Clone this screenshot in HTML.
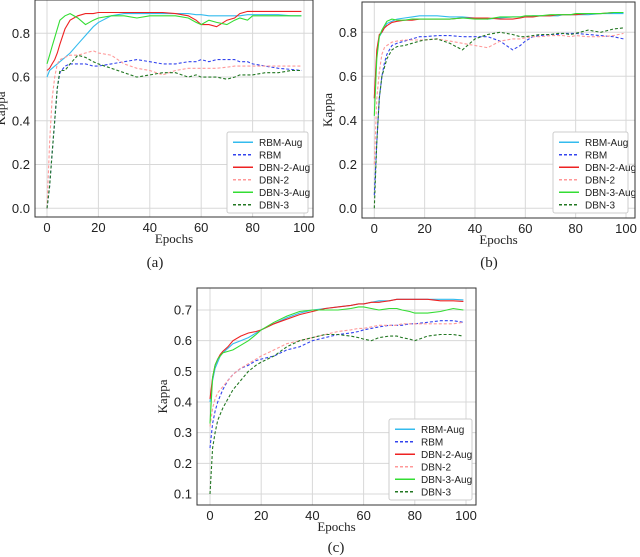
<!DOCTYPE html>
<html><head><meta charset="utf-8"><style>
html,body{margin:0;padding:0;background:#fff;width:640px;height:557px;overflow:hidden}
svg{display:block}
.tick{font-family:"Liberation Sans",sans-serif;font-size:13px;fill:#222}
.lab{font-family:"Liberation Serif",serif;font-size:13px;fill:#222}
.leg{font-family:"Liberation Sans",sans-serif;font-size:10px;fill:#222}
.cap{font-family:"Liberation Serif",serif;font-size:15px;fill:#222}
</style></head><body>
<svg id="fig" width="640" height="557" viewBox="0 0 640 557"></svg>
<script>
const epochs=[0,1,2,3,4,5,7,9,12,15,18,20,25,30,35,40,45,50,55,58,60,63,66,70,73,75,78,80,85,90,95,99];
const seriesNames=["RBM-Aug","RBM","DBN-2-Aug","DBN-2","DBN-3-Aug","DBN-3"];
const xTicks=[0,20,40,60,80,100];
const yTicksAB=[0,0.2,0.4,0.6,0.8];
const yTicksC=[0.1,0.2,0.3,0.4,0.5,0.6,0.7];
const aRbmAug=[0.6,0.63,0.64,0.65,0.66,0.67,0.69,0.71,0.75,0.79,0.83,0.85,0.88,0.89,0.89,0.89,0.89,0.89,0.89,0.885,0.885,0.88,0.88,0.88,0.88,0.88,0.885,0.885,0.885,0.885,0.88,0.88];
const aRbm=[0,0.1,0.25,0.4,0.55,0.62,0.65,0.66,0.66,0.66,0.65,0.65,0.66,0.67,0.68,0.67,0.66,0.66,0.67,0.67,0.68,0.67,0.68,0.68,0.68,0.67,0.67,0.66,0.65,0.64,0.635,0.63];
const aDbn2Aug=[0.63,0.64,0.66,0.68,0.71,0.75,0.82,0.86,0.88,0.89,0.89,0.895,0.895,0.895,0.895,0.895,0.895,0.89,0.88,0.86,0.84,0.84,0.83,0.86,0.87,0.89,0.9,0.9,0.9,0.9,0.9,0.9];
const aDbn2=[0,0.3,0.5,0.6,0.66,0.68,0.69,0.7,0.7,0.71,0.72,0.71,0.7,0.66,0.64,0.63,0.61,0.63,0.64,0.64,0.64,0.64,0.64,0.645,0.65,0.65,0.65,0.65,0.65,0.65,0.65,0.65];
const aDbn3Aug=[0.66,0.7,0.74,0.78,0.82,0.86,0.88,0.89,0.87,0.84,0.86,0.87,0.88,0.88,0.87,0.88,0.88,0.88,0.87,0.85,0.84,0.86,0.85,0.84,0.86,0.87,0.86,0.88,0.88,0.88,0.88,0.88];
const aDbn3=[0,0.1,0.25,0.4,0.55,0.63,0.63,0.66,0.7,0.69,0.67,0.66,0.64,0.62,0.6,0.61,0.62,0.62,0.6,0.61,0.6,0.6,0.6,0.59,0.6,0.61,0.61,0.61,0.62,0.62,0.63,0.63];
const bRbmAug=[0.5,0.7,0.78,0.8,0.82,0.84,0.85,0.86,0.865,0.87,0.875,0.875,0.875,0.87,0.87,0.865,0.86,0.865,0.87,0.87,0.87,0.875,0.875,0.875,0.875,0.88,0.88,0.88,0.88,0.885,0.885,0.885];
const bRbm=[0.06,0.3,0.5,0.6,0.66,0.7,0.74,0.75,0.76,0.77,0.78,0.78,0.785,0.785,0.78,0.78,0.78,0.76,0.72,0.74,0.76,0.78,0.785,0.79,0.79,0.795,0.795,0.795,0.79,0.785,0.78,0.77];
const bDbn2Aug=[0.5,0.72,0.79,0.8,0.82,0.83,0.845,0.85,0.855,0.855,0.86,0.86,0.86,0.86,0.865,0.865,0.865,0.86,0.86,0.865,0.87,0.87,0.875,0.875,0.88,0.88,0.88,0.88,0.885,0.885,0.89,0.89];
const bDbn2=[0.2,0.5,0.62,0.7,0.73,0.74,0.755,0.76,0.765,0.765,0.765,0.765,0.77,0.76,0.75,0.74,0.73,0.76,0.77,0.77,0.775,0.78,0.78,0.785,0.785,0.785,0.78,0.785,0.78,0.78,0.785,0.795];
const bDbn3Aug=[0.42,0.68,0.78,0.81,0.83,0.85,0.86,0.855,0.855,0.86,0.86,0.86,0.86,0.86,0.865,0.86,0.86,0.87,0.87,0.87,0.875,0.875,0.875,0.88,0.88,0.88,0.88,0.885,0.885,0.885,0.89,0.89];
const bDbn3=[0,0.3,0.5,0.6,0.64,0.68,0.72,0.735,0.74,0.75,0.76,0.765,0.77,0.75,0.72,0.77,0.79,0.8,0.79,0.78,0.78,0.785,0.79,0.79,0.795,0.795,0.79,0.795,0.81,0.8,0.815,0.82];
const cRbmAug=[0.4,0.47,0.51,0.53,0.55,0.56,0.575,0.59,0.6,0.61,0.625,0.635,0.655,0.675,0.69,0.7,0.705,0.71,0.715,0.72,0.72,0.725,0.73,0.73,0.735,0.735,0.735,0.735,0.735,0.735,0.735,0.733];
const cRbm=[0.25,0.33,0.37,0.4,0.42,0.44,0.47,0.49,0.51,0.52,0.535,0.54,0.55,0.57,0.58,0.6,0.61,0.62,0.625,0.63,0.635,0.64,0.645,0.65,0.65,0.65,0.655,0.655,0.66,0.665,0.665,0.66];
const cDbn2Aug=[0.41,0.48,0.52,0.54,0.555,0.565,0.58,0.6,0.615,0.625,0.63,0.635,0.655,0.67,0.685,0.695,0.705,0.71,0.715,0.72,0.72,0.725,0.725,0.73,0.735,0.735,0.735,0.735,0.735,0.73,0.73,0.728];
const cDbn2=[0.32,0.38,0.41,0.43,0.44,0.45,0.47,0.49,0.51,0.525,0.54,0.55,0.57,0.59,0.6,0.61,0.62,0.63,0.635,0.64,0.64,0.645,0.65,0.65,0.65,0.655,0.655,0.655,0.655,0.655,0.655,0.66];
const cDbn3Aug=[0.33,0.48,0.52,0.54,0.55,0.56,0.565,0.57,0.585,0.6,0.62,0.635,0.66,0.68,0.695,0.7,0.7,0.7,0.705,0.71,0.71,0.705,0.7,0.705,0.705,0.7,0.695,0.69,0.69,0.695,0.705,0.7];
const cDbn3=[0.1,0.25,0.3,0.34,0.36,0.38,0.41,0.44,0.47,0.5,0.52,0.53,0.55,0.58,0.6,0.61,0.62,0.62,0.615,0.61,0.605,0.6,0.61,0.615,0.615,0.61,0.605,0.6,0.615,0.62,0.62,0.615];

const NS="http://www.w3.org/2000/svg";
const svg=document.getElementById('fig');
function mk(tag,attrs,parent,text){const e=document.createElementNS(NS,tag);for(const k in attrs)e.setAttribute(k,attrs[k]);if(text!==undefined)e.textContent=text;(parent||svg).appendChild(e);return e;}
const styles=[
 {c:"#33bbee",d:"",w:1.1},{c:"#3344ee",d:"3,2",w:1.1},{c:"#ee2222",d:"",w:1.1},
 {c:"#ff9999",d:"3,2",w:1.1},{c:"#33dd33",d:"",w:1.1},{c:"#227722",d:"3,2",w:1.1}];

function panel(p){
 const g=mk('g',{});
 
 
 const X=v=>p.x0+(v-0)*(p.x100-p.x0)/100;
 const Y=v=>p.yA+(v-p.vA)*(p.yB-p.yA)/(p.vB-p.vA);
 xTicks.forEach(t=>{const l=mk('line',{x1:X(t),x2:X(t),y1:p.top,y2:p.bot,stroke:"#d8d8d8","stroke-width":1},g);
   
   const tx=mk('text',{x:X(t),y:p.bot+15,"text-anchor":"middle",class:"tick"},g,String(t));
   });
 p.yt.forEach(t=>{const l=mk('line',{x1:p.left,x2:p.right,y1:Y(t),y2:Y(t),stroke:"#d8d8d8","stroke-width":1},g);
   
   const tx=mk('text',{x:p.left-5,y:Y(t)+4.5,"text-anchor":"end",class:"tick"},g,t.toFixed(1));
   });
 p.data.forEach((arr,i)=>{
   const d=arr.map((v,j)=>(j?'L':'M')+X(epochs[j]).toFixed(1)+','+Y(v).toFixed(1)).join('');
   const s=styles[i];
   const path=mk('path',{d:d,fill:"none",stroke:s.c,"stroke-width":s.w,"stroke-dasharray":s.d},g);
   
   
 });
 const frame=mk('rect',{x:p.left,y:p.top,width:p.right-p.left,height:p.bot-p.top,fill:"none",stroke:"#333","stroke-width":1},g);
 
 const xl=mk('text',{x:(p.left+p.right)/2,y:p.bot+26,"text-anchor":"middle",class:"lab"},g,"Epochs");
 
 const yx=p.left-30, ym=(p.top+p.bot)/2;
 const yl=mk('text',{x:yx,y:ym,"text-anchor":"middle",class:"lab",transform:`rotate(-90 ${yx} ${ym})`},g,"Kappa");
 
 const L=p.leg;
 const lg=mk('g',{},g);
 
 mk('rect',{x:L.x,y:L.y,width:L.w,height:L.h,fill:"#fff",stroke:"#ccc","stroke-width":1,rx:2},lg);
 const rowH=(L.h-6)/6;
 seriesNames.forEach((n,i)=>{
   const cy=L.y+4+rowH*(i+0.5);
   const s=styles[i];
   const e=mk('g',{},lg);
   
   mk('line',{x1:L.x+6,x2:L.x+26,y1:cy,y2:cy,stroke:s.c,"stroke-width":1.5,"stroke-dasharray":s.d},e);
   mk('text',{x:L.x+32,y:cy+3.5,class:"leg"},e,n);
 });
 const cap=mk('text',{x:p.capX,y:p.capY,"text-anchor":"middle",class:"cap"},g,p.cap);
 
}
panel({id:'a',left:35,right:313,top:0,bot:217,x0:47,x100:304,vA:0,yA:208.3,vB:0.8,yB:33.3,yt:yTicksAB,
 data:[aRbmAug,aRbm,aDbn2Aug,aDbn2,aDbn3Aug,aDbn3],leg:{x:227,y:132,w:81,h:81},cap:"(a)",capX:155,capY:267});
panel({id:'b',left:362,right:635,top:2,bot:218,x0:374.3,x100:626,vA:0,yA:208.3,vB:0.8,yB:32.3,yt:yTicksAB,
 data:[bRbmAug,bRbm,bDbn2Aug,bDbn2,bDbn3Aug,bDbn3],leg:{x:553,y:132,w:75,h:81},cap:"(b)",capX:489,capY:267});
panel({id:'c',left:197,right:476,top:288,bot:505,x0:210,x100:466,vA:0.1,yA:494,vB:0.7,yB:310,yt:yTicksC,
 data:[cRbmAug,cRbm,cDbn2Aug,cDbn2,cDbn3Aug,cDbn3],leg:{x:389,y:419,w:83,h:81},cap:"(c)",capX:336,capY:552});
</script>
</body></html>
